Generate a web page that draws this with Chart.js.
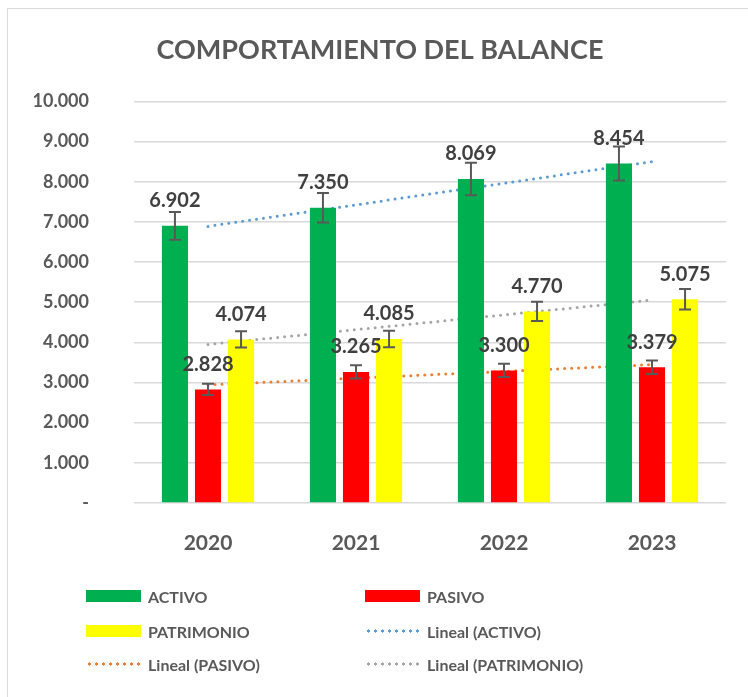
<!DOCTYPE html>
<html>
<head>
<meta charset="utf-8">
<script src="https://cdn.jsdelivr.net/npm/chart.js@4.4.1/dist/chart.umd.min.js"></script>
<style>
  body { margin: 0; background: #fff; }
  #wrap { position: relative; width: 748px; height: 697px; overflow: hidden; font-family: Lato, "Open Sans", sans-serif; }
  #frame { position: absolute; left: 7px; top: 8px; width: 800px; height: 800px; border-left: 1px solid #d9d9d9; border-top: 1px solid #d9d9d9; }
  canvas { position: absolute; left: 0; top: 0; }
  .leg { position: absolute; display: flex; align-items: center; font-weight: 700; font-size: 16px; color: #595959; white-space: nowrap; }
  .sw { width: 55px; height: 12px; margin-right: 7px; }
</style>
</head>
<body>
<div id="wrap">
  <div id="frame"></div>
  <canvas id="balance_chart" width="748" height="697"></canvas>
  <div id="legend"></div>
</div>
<script>
// 데이터
const years = ['2020', '2021', '2022', '2023'];
const activo = [6902, 7350, 8069, 8454];
const pasivo = [2828, 3265, 3300, 3379];
const patrimonio = [4074, 4085, 4770, 5075];

// 추세선 (2020 시작값, 2023 끝값) - 그림에서 읽음
const trendActivo = [6888, 8500];
const trendPasivo = [2940, 3446];
const trendPatrimonio = [3948, 5054];

const yTickLabels = ['-', '1.000', '2.000', '3.000', '4.000', '5.000', '6.000', '7.000', '8.000', '9.000', '10.000'];
const errorPct = 0.05;   // 오차 막대 5%

function fmt(v) {
	return String(v).replace(/\B(?=(\d{3})+(?!\d))/g, '.');
}

function trendData(t) {
	return [t[0], null, null, t[1]];
}

const dotted = {
	type: 'line',
	borderWidth: 3,
	borderDash: [0, 7],
	borderCapStyle: 'round',
	pointRadius: 0,
	spanGaps: true,
	fill: false
};

// 오차 막대 + 데이터 레이블
const barExtras = {
	id: 'barExtras',
	afterDatasetsDraw(chart) {
		const ctx = chart.ctx;
		const y = chart.scales.y;
		ctx.save();
		chart.data.datasets.forEach((ds, i) => {
			if (ds.type === 'line') return;
			chart.getDatasetMeta(i).data.forEach((el, j) => {
				const v = ds.data[j];
				const top = y.getPixelForValue(v * (1 + errorPct));
				const bot = y.getPixelForValue(v * (1 - errorPct));
				ctx.strokeStyle = '#595959';
				ctx.lineWidth = 2;
				ctx.beginPath();
				ctx.moveTo(el.x, top); ctx.lineTo(el.x, bot);
				ctx.moveTo(el.x - 6, top); ctx.lineTo(el.x + 6, top);
				ctx.moveTo(el.x - 6, bot); ctx.lineTo(el.x + 6, bot);
				ctx.stroke();
			});
		});
		ctx.restore();
	},
	afterDraw(chart) {
		const ctx = chart.ctx;
		ctx.save();
		ctx.font = 'bold 20px Lato';
		ctx.fillStyle = '#404040';
		ctx.textAlign = 'center';
		ctx.textBaseline = 'bottom';
		chart.data.datasets.forEach((ds, i) => {
			if (ds.type === 'line') return;
			chart.getDatasetMeta(i).data.forEach((el, j) => {
				ctx.fillText(fmt(ds.data[j]), el.x, el.y - 15);
			});
		});
		ctx.restore();
	}
};

const ctx = document.getElementById('balance_chart').getContext('2d');
const balanceChart = new Chart(ctx, {
	type: 'bar',
	data: {
		labels: years,
		datasets: [
			{ label: 'ACTIVO', data: activo, backgroundColor: '#00b050' },
			{ label: 'PASIVO', data: pasivo, backgroundColor: '#ff0000' },
			{ label: 'PATRIMONIO', data: patrimonio, backgroundColor: '#ffff00' },
			Object.assign({ label: 'Lineal (ACTIVO)', data: trendData(trendActivo), borderColor: '#5b9bd5' }, dotted),
			Object.assign({ label: 'Lineal (PASIVO)', data: trendData(trendPasivo), borderColor: '#ed7d31' }, dotted),
			Object.assign({ label: 'Lineal (PATRIMONIO)', data: trendData(trendPatrimonio), borderColor: '#a5a5a5' }, dotted)
		]
	},
	options: {
		responsive: false,
		animation: false,
		categoryPercentage: 0.67,
		barPercentage: 0.79,
		layout: { padding: { left: 34, right: 22, top: 0, bottom: 0 } },
		plugins: {
			legend: { display: false },
			tooltip: { enabled: false },
			title: {
				display: true,
				text: 'COMPORTAMIENTO DEL BALANCE',
				color: '#595959',
				font: { family: 'Lato', size: 27, weight: 'bold' },
				padding: { top: 34, bottom: 35 }
			}
		},
		scales: {
			x: {
				grid: { display: false },
				border: { display: false },
				ticks: { color: '#595959', font: { family: 'Lato', size: 21, weight: 'bold' }, padding: 20 },
				afterFit: s => { s.height = 194; }
			},
			y: {
				min: 0,
				max: 10000,
				grid: { color: '#d9d9d9', lineWidth: 1.5, drawTicks: false },
				border: { display: false },
				ticks: {
					stepSize: 1000,
					color: '#595959',
					font: { family: 'Lato', size: 18, weight: 'bold' },
					padding: 45,
					callback: (v, idx) => yTickLabels[idx]
				},
				afterFit: s => { s.width = 100; }
			}
		}
	},
	plugins: [barExtras]
});

// 범례 (2열)
const legendPos = [
	{ x: 86, y: 596 }, { x: 365, y: 596 },
	{ x: 86, y: 631 }, { x: 365, y: 631 },
	{ x: 86, y: 664 }, { x: 365, y: 664 }
];
balanceChart.data.datasets.forEach((ds, i) => {
	const item = document.createElement('div');
	item.className = 'leg';
	item.style.left = legendPos[i].x + 'px';
	item.style.top = (legendPos[i].y - 11) + 'px';
	item.style.height = '22px';
	const sw = document.createElement('span');
	sw.className = 'sw';
	if (ds.type === 'line') {
		sw.style.background = 'radial-gradient(circle, ' + ds.borderColor + ' 1.4px, transparent 1.8px) 0 50% / 7px 12px repeat-x';
	} else {
		sw.style.background = ds.backgroundColor;
	}
	item.appendChild(sw);
	item.appendChild(document.createTextNode(ds.label));
	document.getElementById('legend').appendChild(item);
});
</script>
</body>
</html>
